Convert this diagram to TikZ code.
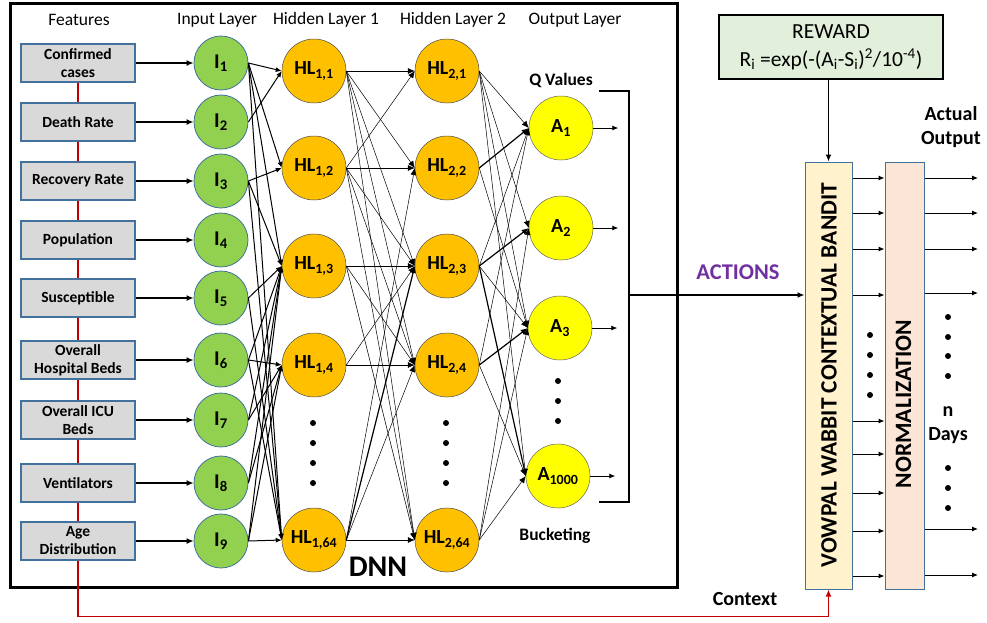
\documentclass[tikz,border=0pt]{standalone}
\usepackage{fontspec}
\setmainfont{Carlito}
\usetikzlibrary{arrows.meta,backgrounds}
\definecolor{featfill}{HTML}{D9D9D9}
\definecolor{featdraw}{HTML}{41719C}
\definecolor{ingreen}{HTML}{92D050}
\definecolor{hidor}{HTML}{FFC000}
\definecolor{outy}{HTML}{FFFF00}
\definecolor{rewfill}{HTML}{E2EFDA}
\definecolor{vwfill}{HTML}{FFF2CC}
\definecolor{normfill}{HTML}{FBE5D6}
\definecolor{actpurple}{HTML}{7030A0}
\definecolor{ctxred}{HTML}{C00000}
\newcommand\fsz[2]{\fontsize{#1}{#2}\selectfont}
\begin{document}
\begin{tikzpicture}[x=1pt,y=-1pt,
  feat/.style={rectangle,draw=featdraw,fill=featfill,line width=1.2,minimum width=114,minimum height=38,inner sep=1,align=center,font=\bfseries\fsz{15.5}{18}},
  inp/.style={circle,draw=featdraw,fill=ingreen,line width=0.8,minimum size=54,inner sep=0,font=\bfseries\fsz{21}{22}},
  hid/.style={circle,draw=black!70,fill=hidor,line width=0.5,minimum size=64,inner sep=0,font=\bfseries\fsz{20}{21}},
  outn/.style={circle,draw=black!60,fill=outy,line width=0.5,minimum size=64,inner sep=0,font=\bfseries\fsz{20}{21}},
  hdr/.style={font=\fsz{17.5}{20}},
  blab/.style={font=\bfseries\fsz{17.5}{20},align=center},
  rlab/.style={font=\bfseries\fsz{20}{23.5},align=center},
  farrow/.style={-{Latex[length=7,width=6]},line width=1.5},
  e1/.style={-{Latex[length=6,width=5]},line width=1},
  e2/.style={-{Latex[length=7,width=6]},line width=0.5},
  e2t/.style={-{Latex[length=7,width=6]},line width=1.2},
  oarr/.style={-{Latex[length=6,width=5]},line width=0.8},
  sarr/.style={-{Latex[length=6,width=5]},line width=1},
  dotc/.style={circle,fill=black,inner sep=0,minimum size=6},
]
\useasboundingbox (0,0) rectangle (987,622);
% DNN frame
\draw[line width=3] (10,3) rectangle (677,587);
% headers
\node[hdr] (hf) at (79,20) {Features};
\node[hdr] (hi) at (217,20) {Input Layer};
\node[hdr] (hh1) at (326,20) {Hidden Layer 1};
\node[hdr] (hh2) at (453,20) {Hidden Layer 2};
\node[hdr] (ho) at (575,20) {Output Layer};
% features
\node[feat] (f1) at (78,63) {Confirmed\\cases};
\node[feat] (f2) at (78,122) {Death Rate};
\node[feat] (f3) at (78,181) {Recovery Rate};
\node[feat] (f4) at (78,240) {Population};
\node[feat] (f5) at (78,298) {Susceptible};
\node[feat] (f6) at (78,360) {Overall\\Hospital Beds};
\node[feat] (f7) at (78,420) {Overall ICU\\Beds};
\node[feat] (f8) at (78,483) {Ventilators};
\node[feat] (f9) at (78,541) {Age\\Distribution};
\begin{scope}[on background layer]
\draw[ctxred,line width=1.5] (f1.center) -- (f9.center);
\end{scope}
% inputs
\foreach \i/\y in {1/63,2/122,3/181,4/240,5/298,6/360,7/420,8/483,9/541}{
  \node[inp] (i\i) at (221,\y) {I\textsubscript{\i}};
  \draw[farrow] (f\i.east) -- (i\i.west);
}
% hidden 1 and 2
\foreach \k/\y/\s in {1/71/1,2/168/2,3/266/3,4/365/4,5/540/64}{
  \node[hid] (h\k) at (314,\y) {HL\textsubscript{1,\s}};
  \node[hid] (g\k) at (447,\y) {HL\textsubscript{2,\s}};
}
\foreach \y in {423,443,463,483}{
  \node[dotc] at (313,\y) {};
  \node[dotc] at (446,\y) {};
}
% outputs
\node[outn] (a1) at (561,128) {A\textsubscript{1}};
\node[outn] (a2) at (561,228) {A\textsubscript{2}};
\node[outn] (a3) at (560,328) {A\textsubscript{3}};
\node[outn] (a4) at (558,476) {A\textsubscript{1000}};
\foreach \y in {381,401,421}{ \node[dotc] at (558,\y) {}; }
\foreach \k in {1,2,3,4}{ \draw[oarr] (a\k.east) -- ++(25,0); }
% input -> hidden1
\foreach \s/\t in {1/1,1/2,1/3,1/5,2/1,3/2,3/3,3/5,5/3,5/5,6/4,6/3,6/5,7/4,7/3,8/4,8/3,9/5,9/3,9/4}{
  \draw[e1] (i\s.east) -- (h\t.west);
}
% hidden1 -> hidden2
\foreach \s/\t in {1/1,1/2,1/3,1/4,1/5,2/1,2/2,2/3,2/4,2/5,3/3,3/4,3/5,4/3,4/4,5/5,5/4}{
  \draw[e2] (h\s.east) -- (g\t.west);
}
\draw[e2t] (h5.east) -- (g3.west);
\draw[e2] (h5.east) -- (g2.west);
% hidden2 -> output
\foreach \s/\t in {1/1,1/2,1/3,1/4,2/3,3/1,3/3,4/1,4/4,5/4,5/2,5/3}{
  \draw[e2] (g\s.east) -- (a\t.west);
}
\foreach \s/\t in {2/1,3/2,3/4,4/3}{
  \draw[e2t] (g\s.east) -- (a\t.west);
}
\node[blab] (qv) at (561,80) {Q Values};
\node[blab] (bk) at (555,536) {Bucketing};
\node[font=\bfseries\fsz{30}{32}] (dnn) at (378,567) {DNN};
% bracket
\coordinate (brt) at (599,91);
\coordinate (brb) at (599,502);
\coordinate (brm) at (629,295);
\draw[line width=2] (brt) -- ++(30,0) |- (brb);
% right side
\node[rectangle,draw=black,line width=2,fill=rewfill,minimum width=224,minimum height=64,align=center,font=\fsz{21.5}{28}] (rew) at (831,47)
  {REWARD\\R\textsubscript{i} =exp(-(A\textsubscript{i}-S\textsubscript{i})\textsuperscript{2}/10\textsuperscript{-4})};
\node[rectangle,draw=featdraw,line width=1,fill=vwfill,minimum width=47,minimum height=427] (vw) at (828.5,375.5) {};
\node[rotate=90,font=\bfseries\fsz{23.4}{25}] (vwt) at (829,375) {VOWPAL WABBIT CONTEXTUAL BANDIT};
\node[rectangle,draw=featdraw,line width=1,fill=normfill,minimum width=39,minimum height=427] (nm) at (904.5,375.5) {};
\node[rotate=90,font=\bfseries\fsz{23.5}{25}] (nmt) at (903.5,404) {NORMALIZATION};
\draw[line width=2,-{Latex[length=7,width=6]}] (brm) -- (vw.west |- brm);
\node[font=\bfseries\fsz{22.5}{24},text=actpurple] (act) at (738,272) {ACTIONS};
\draw[line width=1.5,-{Latex[length=7,width=6]}] (rew.south -| vw.north) -- (vw.north);
\foreach \y in {178,213,249,295,421,454,493,531,576}{
  \draw[sarr] (vw.east |- 0,\y) -- (nm.west |- 0,\y);
}
\foreach \y in {335,355,375,395}{ \node[dotc] at (870,\y) {}; }
\foreach \y in {178,213,249,293,529,575}{
  \coordinate (o\y) at (978,\y);
  \draw[sarr] (nm.east |- o\y) -- (o\y);
}
\foreach \y in {317,337,356,376,468,488,508}{ \node[dotc] at (948,\y) {}; }
\node[rlab] (nd) at (948,425) {n\\Days};
\node[rlab] (ao) at (951,127) {Actual\\Output};
\node[rlab] (ctx) at (745,599) {Context};
\draw[ctxred,line width=1.5,-{Latex[length=7,width=6]}] (f9.south) -- ++(0,56) -| (vw.south);
\end{tikzpicture}
\end{document}
